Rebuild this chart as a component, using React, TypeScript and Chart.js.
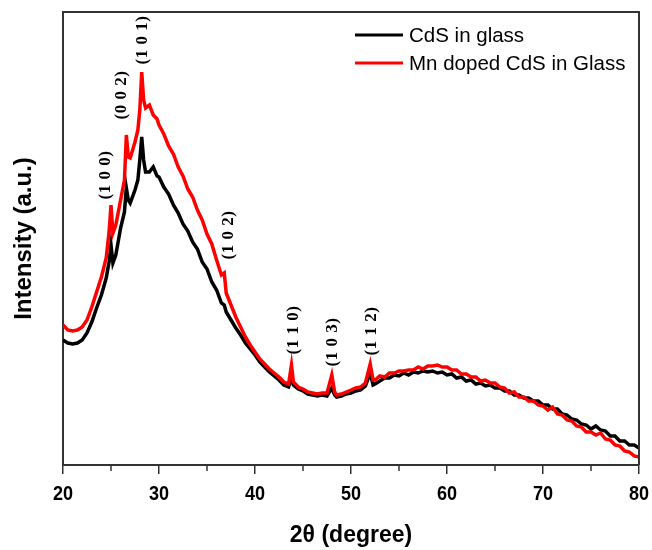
import React, { useEffect, useRef } from 'react';
import { Chart, registerables } from 'chart.js';

Chart.register(...registerables);

// 2θ positions (degree)
const twoTheta = [
  20, 20.5, 21, 21.5, 22, 22.5, 23, 23.5, 24, 24.5,
  24.8, 25, 25.2, 25.5, 26, 26.4, 26.6, 26.8, 27, 27.5, 27.8, 28, 28.2, 28.4, 28.6,
  29, 29.4, 29.8, 30, 30.5, 31, 31.5, 32, 32.5, 33, 33.5, 34, 34.5, 35, 35.5, 36, 36.5,
  36.8, 37, 37.5, 38, 38.5, 39, 39.5, 40, 40.5, 41, 41.5, 42, 42.5, 43, 43.5,
  43.8, 44, 44.5, 45, 45.5, 46, 46.5, 47, 47.5, 48, 48.3, 48.5, 49, 49.5, 50, 50.5, 51, 51.5, 52, 52.3, 52.5,
  53, 53.5, 54, 54.5, 55, 55.5, 56, 56.5, 57, 57.5,
  58, 58.5, 59, 59.5, 60, 60.5, 61, 61.5, 62, 62.5,
  63, 63.5, 64, 64.5, 65, 65.5, 66, 66.5, 67, 67.5,
  68, 68.5, 69, 69.5, 70, 70.5, 71, 71.5, 72, 72.5,
  73, 73.5, 74, 74.5, 75, 75.5, 76, 76.5, 77, 77.5,
  78, 78.5, 79, 79.5, 80,
];

// CdS in glass (a.u.)
const cdsInGlass = [
  125, 122, 121, 122, 125, 132, 143, 157, 170, 187,
  203, 220, 202, 210, 237, 253, 277, 265, 262, 275, 285, 305, 328, 305, 293,
  293, 298, 289, 288, 278, 271, 260, 252, 241, 234, 223, 216, 203, 196, 183, 175, 162,
  160, 153, 145, 137, 130, 122, 116, 110, 103, 98, 93, 89, 85, 80, 78,
  87, 80, 76, 74, 71, 70, 69, 70, 69, 77, 70, 68, 69, 71, 72, 74, 75, 79, 92, 80, 81,
  84, 87, 87, 90, 89, 92, 90, 93, 92, 94,
  93, 94, 92, 93, 90, 91, 87, 88, 84, 85,
  81, 82, 79, 80, 77, 77, 74, 74, 70, 70,
  67, 67, 64, 64, 60, 60, 56, 56, 51, 50,
  46, 45, 41, 40, 36, 39, 35, 34, 29, 29,
  24, 24, 20, 20, 17,
];

// Mn doped CdS in Glass (a.u.)
const mnDopedCds = [
  140, 135, 134, 135, 138, 145, 158, 173, 188, 207,
  233, 260, 232, 240, 265, 285, 330, 308, 307, 323, 335, 355, 393, 365, 357,
  360, 350, 346, 340, 331, 319, 311, 298, 289, 276, 268, 255, 245, 231, 221, 205, 190,
  192, 172, 160, 148, 138, 128, 120, 113, 106, 101, 96, 92, 88, 83, 81,
  100, 83, 78, 76, 73, 72, 71, 72, 72, 90, 73, 70, 71, 73, 75, 77, 78, 82, 101, 85, 85,
  89, 88, 92, 92, 94, 94, 95, 95, 98, 96,
  99, 99, 100, 98, 98, 95, 95, 91, 91, 88,
  88, 84, 85, 82, 82, 78, 77, 72, 73, 68,
  68, 64, 64, 60, 59, 55, 58, 51, 50, 45,
  44, 39, 38, 33, 33, 30, 32, 26, 25, 20,
  19, 14, 13, 9, 8,
];

const seriesLabels = ['CdS in glass', 'Mn doped CdS in Glass'];
const xMajorTicks = [20, 30, 40, 50, 60, 70, 80];

// Miller index annotations
const peakLabels = ['(1 0 0)', '(0 0 2)', '(1 0 1)', '(1 0 2)', '(1 1 0)', '(1 0 3)', '(1 1 2)'];
const peakLabelX = [24.4, 26.1, 28.3, 37.2, 44.0, 48.1, 52.1];
const peakLabelY = [290, 370, 425, 230, 135, 123, 134];

export default function App() {
  const ref = useRef<HTMLCanvasElement>(null);

  useEffect(() => {
    if (!ref.current) return;

    const decor = {
      id: 'decor',
      afterDatasetsDraw(chart: any) {
        const { ctx, chartArea: a, scales } = chart;
        const xs = scales.x;
        const ys = scales.y;
        ctx.save();
        // top & right frame
        ctx.strokeStyle = '#333';
        ctx.lineWidth = 2;
        ctx.beginPath();
        ctx.moveTo(a.left, a.top);
        ctx.lineTo(a.right, a.top);
        ctx.lineTo(a.right, a.bottom);
        ctx.stroke();
        // minor ticks + condensed tick labels
        ctx.lineWidth = 1.5;
        ctx.fillStyle = '#000';
        ctx.font = 'bold 21px "Liberation Sans", Arial, sans-serif';
        ctx.textAlign = 'center';
        ctx.textBaseline = 'alphabetic';
        for (const t of xs.ticks) {
          const px = xs.getPixelForValue(t.value);
          if (xMajorTicks.includes(t.value)) {
            ctx.save();
            ctx.translate(px, a.bottom + 35);
            ctx.scale(0.86, 1);
            ctx.fillText(String(t.value), 0, 0);
            ctx.restore();
            continue;
          }
          ctx.beginPath();
          ctx.moveTo(px, a.bottom);
          ctx.lineTo(px, a.bottom + 6);
          ctx.stroke();
        }
        // peak labels
        ctx.font = 'bold 17px "Liberation Serif", "Times New Roman", serif';
        (ctx as any).letterSpacing = '0.5px';
        ctx.textAlign = 'center';
        ctx.textBaseline = 'middle';
        peakLabels.forEach((lab, i) => {
          const px = xs.getPixelForValue(peakLabelX[i]);
          const py = ys.getPixelForValue(peakLabelY[i]);
          ctx.save();
          ctx.translate(px, py);
          ctx.rotate(-Math.PI / 2);
          ctx.fillText(lab, 0, 0);
          ctx.restore();
        });
        (ctx as any).letterSpacing = '0px';
        // legend
        const lx = a.right - 284;
        const ly = a.top + 23;
        ctx.font = '20.5px "Liberation Sans", Arial, sans-serif';
        ctx.textAlign = 'left';
        chart.data.datasets.forEach((ds: any, i: number) => {
          const y = ly + i * 28;
          ctx.strokeStyle = ds.borderColor;
          ctx.lineWidth = 3;
          ctx.beginPath();
          ctx.moveTo(lx, y);
          ctx.lineTo(lx + 48, y);
          ctx.stroke();
          ctx.fillStyle = '#000';
          ctx.fillText(ds.label, lx + 54, y + 1);
        });
        ctx.restore();
      },
    };

    const chart = new Chart(ref.current, {
      type: 'line',
      data: {
        datasets: [
          {
            label: seriesLabels[0],
            data: twoTheta.map((x, i) => ({ x, y: cdsInGlass[i] })),
            borderColor: '#000000',
            borderWidth: 3.5,
            pointRadius: 0,
            tension: 0,
            order: 1,
          },
          {
            label: seriesLabels[1],
            data: twoTheta.map((x, i) => ({ x, y: mnDopedCds[i] })),
            borderColor: '#ff0000',
            borderWidth: 3.5,
            pointRadius: 0,
            tension: 0,
            order: 0,
          },
        ],
      },
      options: {
        animation: false,
        responsive: false,
        devicePixelRatio: 1,
        layout: { padding: { top: 12, right: 13, left: 0, bottom: 0 } },
        plugins: { legend: { display: false }, tooltip: { enabled: false } },
        scales: {
          x: {
            type: 'linear',
            min: 20,
            max: 80,
            afterFit: (s: any) => { s.height = 85; },
            ticks: {
              stepSize: 5,
              autoSkip: false,
              maxRotation: 0,
              callback: () => '',
            },
            grid: {
              drawOnChartArea: false,
              drawTicks: true,
              tickLength: 9,
              lineWidth: 1.5,
              color: (c: any) => (c.tick && xMajorTicks.includes(c.tick.value) ? '#333' : 'rgba(0,0,0,0)'),
            },
            border: { color: '#333', width: 2 },
            title: {
              display: true,
              text: '2θ (degree)',
              color: '#000',
              font: { family: '"Liberation Sans", Arial, sans-serif', size: 23, weight: 'bold' },
              padding: { top: 0, bottom: 1 },
            },
          },
          y: {
            min: 0,
            max: 453,
            afterFit: (s: any) => { s.width = 63; },
            ticks: { display: false },
            grid: { display: false },
            border: { color: '#333', width: 2 },
            title: {
              display: true,
              text: 'Intensity (a.u.)',
              color: '#000',
              font: { family: '"Liberation Sans", Arial, sans-serif', size: 24, weight: 'bold' },
              padding: { top: 10, bottom: 0 },
            },
          },
        },
      },
      plugins: [decor],
    } as any);

    return () => chart.destroy();
  }, []);

  return (
    <div style={{ position: 'absolute', left: 0, top: 0, width: 652, height: 550, background: '#fff' }}>
      <canvas ref={ref} width={652} height={550} />
    </div>
  );
}
